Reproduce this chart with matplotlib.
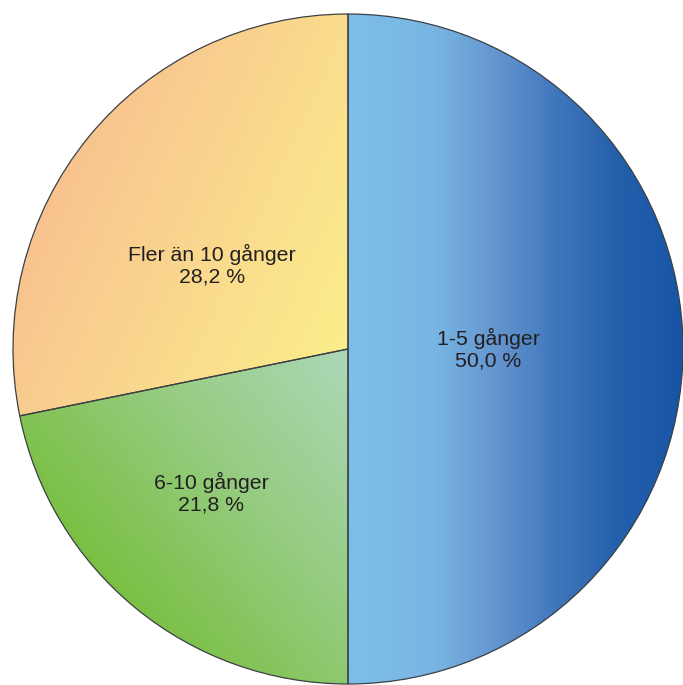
import numpy as np
import matplotlib.pyplot as plt
from matplotlib.colors import LinearSegmentedColormap

plt.rcParams['font.family'] = ['Liberation Sans', 'DejaVu Sans']

labels = ['1-5 gånger', '6-10 gånger', 'Fler än 10 gånger']
shares = [50.0, 21.8, 28.2]
pct_text = ['50,0 %', '21,8 %', '28,2 %']

# gradient stops for each slice and direction of the gradient (degrees)
grad_stops = [
    [(0.0, '#7fbee9'), (0.25, '#79b6e3'), (0.45, '#6394cf'),
     (0.62, '#4077bc'), (0.8, '#2461ac'), (1.0, '#1854a5')],
    [(0.0, '#79bf40'), (0.5, '#95cc80'), (1.0, '#acd8b8')],
    [(0.0, '#f8c28f'), (0.5, '#fad98e'), (1.0, '#fbee8a')],
]
grad_angle = [0, 40, -25]
label_xy = [(488, 336), (211, 192), (212, 420)]

center = (348, 336)
radius = 335

fig = plt.figure(figsize=(6.83, 6.85), dpi=100)
ax = fig.add_axes([0, 0, 1, 1])

wedges, _ = ax.pie(shares, startangle=90, counterclock=False,
                   center=center, radius=radius, frame=True,
                   wedgeprops=dict(facecolor='none', edgecolor='#3c4044',
                                   linewidth=0.9, zorder=3))

for w, stops, ang in zip(wedges, grad_stops, grad_angle):
    verts = w.get_path().vertices
    x0, y0 = verts.min(axis=0)
    x1, y1 = verts.max(axis=0)
    d = np.array([np.cos(np.radians(ang)), np.sin(np.radians(ang))])
    proj = verts @ d
    xs = np.linspace(x0, x1, 400)
    ys = np.linspace(y0, y1, 400)
    X, Y = np.meshgrid(xs, ys)
    t = (X * d[0] + Y * d[1] - proj.min()) / (proj.max() - proj.min())
    cmap = LinearSegmentedColormap.from_list('g', stops)
    img = ax.imshow(cmap(np.clip(t, 0, 1)), extent=(x0, x1, y0, y1),
                    origin='lower', interpolation='bilinear', zorder=1)
    img.set_clip_path(w)

for (x, y), lab, pct in zip(label_xy, labels, pct_text):
    ax.text(x, y, lab + '\n' + pct, ha='center', va='center',
            fontsize=15.3, color='#231f20', linespacing=1.2, zorder=4)

ax.set_xlim(0, 683)
ax.set_ylim(0, 685)
ax.set_aspect('equal')
ax.axis('off')

fig.savefig('out.png', dpi=100)
